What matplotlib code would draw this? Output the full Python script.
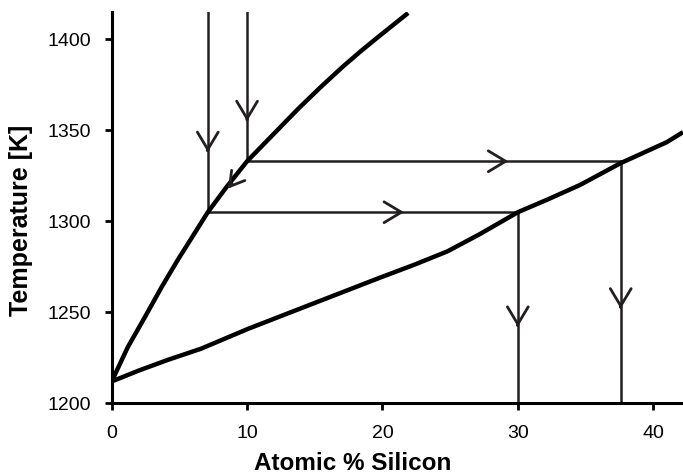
import matplotlib
matplotlib.use("Agg")
import matplotlib.pyplot as plt

plt.rcParams['font.family'] = ['Liberation Sans', 'DejaVu Sans']

# Liquidus curve
liq_x = [0, 1.2, 2.5, 3.7, 4.9, 6.0, 7.1, 8.5, 10.0, 11.9, 13.8, 15.4, 17.0, 18.4, 19.8, 21.9]
liq_y = [1212, 1231, 1248, 1264, 1279, 1292, 1305, 1319, 1333, 1347.5, 1362, 1373.5, 1384.5, 1393.5, 1402, 1414.5]
# Solidus curve
sol_x = [0, 2.0, 4.2, 6.6, 10.1, 14.6, 19.8, 22.3, 24.8, 27.2, 30.0, 32.2, 34.6, 37.6, 41.0, 42.2]
sol_y = [1212, 1218, 1224, 1230, 1241, 1254, 1269, 1276, 1283.5, 1293, 1305, 1312, 1320, 1332, 1343.5, 1349]

# Construction lines
xa, ta = 7.1, 1305   # first liquidus point
xb, tb = 10.0, 1333  # second liquidus point
xs1 = 30.0           # solidus at ta
xs2 = 37.6           # solidus at tb
ytop = 1415
ybot = 1200

fig = plt.figure(figsize=(6.83, 4.76), dpi=100)
ax = fig.add_axes([0.1635, 0.1527, 0.8365, 0.822])

lc = '#231f20'
lw = 1.8
ax.plot([xa, xa], [ytop, ta], color=lc, lw=lw)
ax.plot([xb, xb], [ytop, tb], color=lc, lw=lw)
ax.plot([xb, xs2], [tb, tb], color=lc, lw=lw)
ax.plot([xa, xs1], [ta, ta], color=lc, lw=lw)
ax.plot([xs1, xs1], [ta, ybot], color=lc, lw=lw)
ax.plot([xs2, xs2], [tb, ybot], color=lc, lw=lw)

ax.plot(liq_x, liq_y, color='black', lw=3.2, solid_capstyle='butt', solid_joinstyle='round')
ax.plot(sol_x, sol_y, color='black', lw=3.2, solid_capstyle='butt', solid_joinstyle='round')

def arrow(tip, direction, hl=1.25, hw=0.75):
    dx, dy = direction
    ax.annotate('', xy=tip, xytext=(tip[0] - dx, tip[1] - dy),
                arrowprops=dict(arrowstyle=f'->,head_length={hl},head_width={hw}',
                                color=lc, lw=2.0, shrinkA=0, shrinkB=0),
                annotation_clip=False)

arrow((xa, 1338), (0, -1))
arrow((xb, 1355), (0, -1))
arrow((29.3, tb), (0.5, 0))
arrow((21.6, ta), (0.5, 0))
arrow((xs1, 1242), (0, -1))
arrow((xs2, 1252), (0, -1))
arrow((8.6, 1318), (-0.29, -2.8), hl=1.0, hw=0.6)

ax.set_xlim(0, 42.2)
ax.set_ylim(1200, 1415)
ax.set_xticks([0, 10, 20, 30, 40])
ax.set_yticks([1200, 1250, 1300, 1350, 1400])
for s in ['top', 'right']:
    ax.spines[s].set_visible(False)
for s in ['left', 'bottom']:
    ax.spines[s].set_linewidth(2.2)
ax.tick_params(direction='out', length=5, width=2, labelsize=14)
ax.tick_params(axis='x', pad=10.5)
ax.tick_params(axis='y', pad=10)
ax.set_xlabel('Atomic % Silicon', fontsize=17.5, fontweight='bold', va='center')
ax.set_ylabel('Temperature [K]', fontsize=18, fontweight='bold')
ax.xaxis.set_label_coords(0.422, -0.155)
ax.yaxis.set_label_coords(-0.138, 0.467)

fig.savefig('out.png', dpi=100)
